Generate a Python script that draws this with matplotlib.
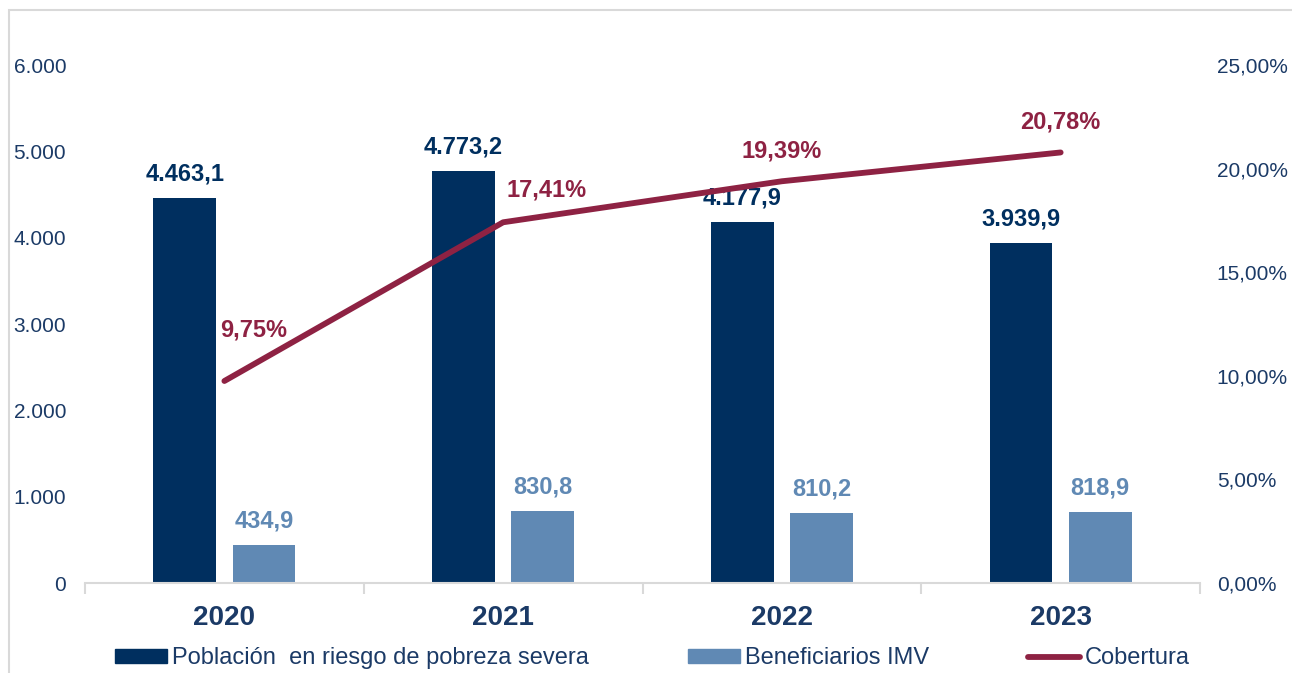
import matplotlib
matplotlib.use("Agg")
import matplotlib.pyplot as plt
from matplotlib.patches import Rectangle, Patch
from matplotlib.lines import Line2D
import numpy as np

plt.rcParams['font.family'] = ['Liberation Sans', 'DejaVu Sans']

years = ['2020', '2021', '2022', '2023']
poblacion = [4463.1, 4773.2, 4177.9, 3939.9]     # miles de personas
beneficiarios = [434.9, 830.8, 810.2, 818.9]     # miles de personas
cobertura = [9.75, 17.41, 19.39, 20.78]          # %

c_dark = '#002f5f'
c_light = '#6089b4'
c_line = '#8e2243'
c_text = '#1b3a66'
c_grey = '#d9d9d9'


def fmt_es(v, dec=1):
    s = f"{v:,.{dec}f}"
    return s.replace(',', 'X').replace('.', ',').replace('X', '.')


fig = plt.figure(figsize=(12.92, 6.73), dpi=100)
ax = fig.add_axes([0.0658, 0.1337, 0.8630, 0.7697])
ax2 = ax.twinx()

x = np.arange(len(years))
w = 0.225
off = 0.142
ax.bar(x - off, poblacion, w, color=c_dark, zorder=2)
ax.bar(x + off, beneficiarios, w, color=c_light, zorder=2)

for xi, v in zip(x, poblacion):
    ax.annotate(fmt_es(v), (xi - off, v), xytext=(0, 9), textcoords='offset points',
                ha='center', va='bottom', fontsize=17, fontweight='bold', color=c_dark)
for xi, v in zip(x, beneficiarios):
    ax.annotate(fmt_es(v), (xi + off, v), xytext=(0, 9), textcoords='offset points',
                ha='center', va='bottom', fontsize=17, fontweight='bold', color=c_light)

ax2.plot(x, cobertura, color=c_line, lw=4.2, solid_capstyle='round', zorder=3)
lab_off = [(21, 37), (31, 23), (0, 22), (0, 22)]
for xi, v, o in zip(x, cobertura, lab_off):
    ax2.annotate(fmt_es(v, 2) + '%', (xi, v), xytext=o, textcoords='offset points',
                 ha='center', va='center', fontsize=17, fontweight='bold', color=c_line)

ax.set_xlim(-0.5, 3.5)
ax.set_ylim(0, 6000)
ax2.set_ylim(0, 25)

ax.set_yticks(range(0, 6001, 1000))
ax.set_yticklabels([fmt_es(t, 0) for t in range(0, 6001, 1000)])
ax2.set_yticks(range(0, 26, 5))
ax2.set_yticklabels([fmt_es(t, 2) + '%' for t in range(0, 26, 5)])

ax.set_xticks(np.arange(-0.5, 4, 1))
ax.set_xticklabels([])
ax.set_xticks(x, minor=True)
ax.set_xticklabels(years, minor=True, fontsize=20, fontweight='bold', color=c_text)
ax.tick_params(axis='x', which='major', length=8, width=1.5, color=c_grey, direction='out')
ax.tick_params(axis='x', which='minor', length=0, pad=16)

for a in (ax, ax2):
    for s in ('top', 'left', 'right', 'bottom'):
        a.spines[s].set_visible(False)
    a.tick_params(axis='y', length=0, labelsize=15, labelcolor=c_text)
ax.spines['bottom'].set_visible(True)
ax.spines['bottom'].set_color(c_grey)
ax.spines['bottom'].set_linewidth(1.5)
ax.tick_params(axis='y', pad=13.5)
ax2.tick_params(axis='y', pad=12)

handles = [Patch(color=c_dark, label='Población  en riesgo de pobreza severa'),
           Patch(color=c_light, label='Beneficiarios IMV'),
           Line2D([], [], color=c_line, lw=4.2, solid_capstyle='round', label='Cobertura')]
leg = fig.legend(handles=handles, loc='center', bbox_to_anchor=(0.505, 0.022), ncol=3,
                 frameon=False, fontsize=17, handlelength=2.2, handleheight=0.5,
                 handletextpad=0.2, columnspacing=4.2)
for t in leg.get_texts():
    t.set_color(c_text)

# marco exterior del gráfico
fig.patches.append(Rectangle((9 / 1292, -0.1), 1.2, 1 - 10 / 673 + 0.1, transform=fig.transFigure,
                             fill=False, edgecolor=c_grey, lw=1.5))

fig.savefig('out.png', dpi=100)
